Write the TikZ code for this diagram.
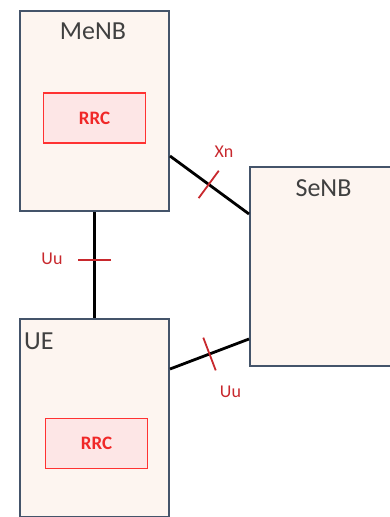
\documentclass[tikz,border=0pt]{standalone}
\usepackage{fontspec}
\setmainfont{Carlito}
\usetikzlibrary{calc}
\definecolor{boxfill}{RGB}{253,245,240}
\definecolor{boxline}{RGB}{68,84,106}
\definecolor{titletext}{RGB}{64,64,64}
\definecolor{rrcline}{RGB}{255,50,50}
\definecolor{rrcfill}{RGB}{253,230,230}
\definecolor{rrctext}{RGB}{240,40,40}
\definecolor{ifred}{RGB}{200,40,45}
\tikzset{
  x=1pt, y=-1pt,
  entity/.style={draw=boxline, fill=boxfill, line width=2pt, rectangle,
    inner sep=0pt, anchor=north west},
  title/.style={inner sep=0pt, text=titletext, font=\fontsize{26}{30}\selectfont},
  rrc/.style={draw=rrcline, fill=rrcfill, line width=1.8pt, rectangle,
    minimum width=102pt, minimum height=50pt, inner sep=0pt,
    text=rrctext, font=\bfseries\fontsize{19}{22}\selectfont},
  link/.style={black, line width=2.8pt},
  tick/.style={ifred, line width=1.8pt},
  iflabel/.style={inner sep=0pt, text=ifred, font=\fontsize{18}{22}\selectfont}
}
\begin{document}
\begin{tikzpicture}
\clip (0,0) rectangle (390,517);
\useasboundingbox (0,0) rectangle (390,517);

% network entities
\node[entity, minimum width=149pt, minimum height=200pt] (menb) at (19,10) {};
\node[entity, minimum width=149pt, minimum height=198pt] (ue) at (19,318) {};
\node[entity, minimum width=146pt, minimum height=199pt] (senb) at (249,166) {};

% entity titles
\node[title] (menbt) at (93,31) {MeNB};
\node[title] (senbt) at (323.5,188.5) {SeNB};
\node[title, anchor=west] (uet) at (24,341.5) {UE};

% RRC layers
\node[rrc] (rrcm) at (94.5,118) {RRC};
\node[rrc] (rrcu) at (96.5,443.5) {RRC};

% interfaces
\coordinate (xa) at ([yshift=-45pt]menb.east);
\coordinate (xb) at ([yshift=52.5pt]senb.west);
\coordinate (ua) at ([yshift=49pt]ue.east);
\coordinate (ub) at ([yshift=-72.5pt]senb.west);

\draw[link] (menb.south) -- coordinate[pos=0.45] (t1) (ue.north);
\draw[link] (xa) -- coordinate[pos=0.49] (t2) (xb);
\draw[link] (ua) -- coordinate[pos=0.5] (t3) (ub);

% interface crossing marks
\draw[tick] ($(t1)!16.5pt!90:(ue.north)$) -- ($(t1)!16.5pt!-90:(ue.north)$);
\draw[tick] ($(t2)!17pt!90:(xb)$) -- ($(t2)!17pt!-90:(xb)$);
\draw[tick] ($(t3)!17.5pt!90:(ub)$) -- ($(t3)!17.5pt!-90:(ub)$);

% interface names
\node[iflabel] (uu1) at (52,259) {Uu};
\node[iflabel] (xn) at (224,152) {Xn};
\node[iflabel] (uu2) at (230.5,392) {Uu};
\end{tikzpicture}
\end{document}
